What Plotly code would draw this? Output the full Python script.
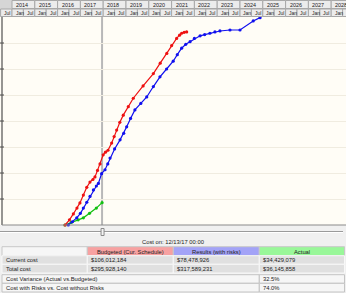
import plotly.graph_objects as go

# ---------------- data ----------------
budget_x = [2016.33, 2016.52, 2016.69, 2016.85, 2016.98, 2017.13, 2017.28, 2017.42, 2017.55, 2017.64,
            2017.75, 2017.86, 2018.0, 2018.1, 2018.21, 2018.37, 2018.48, 2018.59, 2018.73, 2018.88,
            2019.1, 2019.32, 2019.75, 2020.2, 2020.5, 2020.79, 2021.0, 2021.22, 2021.35, 2021.44, 2021.55, 2021.66]
budget_y = [0, 8, 17, 26, 34, 46, 58, 66, 70, 74,
            84, 94, 108, 112, 115, 126, 136, 146, 158, 169,
            182, 195, 214, 233, 249, 264, 276, 287, 292, 295, 296.5, 297]

results_x = [2016.47, 2016.65, 2016.84, 2017.0, 2017.13, 2017.28, 2017.42, 2017.57, 2017.7, 2017.79,
             2017.93, 2018.08, 2018.2, 2018.3, 2018.5, 2018.74, 2018.9, 2019.03, 2019.2, 2019.39,
             2019.65, 2019.91, 2020.2, 2020.49, 2020.78, 2021.07, 2021.25, 2021.44, 2021.62, 2021.81,
             2022.0, 2022.25, 2022.45, 2022.68, 2022.9, 2023.12, 2023.56, 2024.0, 2024.58, 2024.88]
results_y = [0, 5, 11, 18, 26, 35, 44, 54, 60, 64,
             79, 85, 94, 103, 117, 131, 141, 151, 164, 177,
             187, 197, 213, 228, 240, 252, 262, 272, 278, 282,
             287, 291, 293, 295, 297, 298.5, 300, 300, 314, 319]

actual_x = [2016.32, 2016.6, 2016.9, 2017.13, 2017.4, 2017.7, 2017.95]
actual_y = [0, 4, 8, 11, 18, 26, 34.4]

year_labels = [str(y) for y in range(2014, 2029)]
month_labels = ["Jan", "Jul"]
current_label = "Cost on: 12/13/17 00:00"
table_header = ["", "Budgeted (Cur. Schedule)", "Results (with risks)", "Actual"]
table_rows = [
    ["Current cost", "$106,012,184", "$78,478,926", "$34,429,079"],
    ["Total cost", "$295,928,140", "$317,589,231", "$36,145,858"],
]
summary_rows = [
    ["Cost Variance (Actual vs.Budgeted)", "32.5%"],
    ["Cost with Risks vs. Cost without Risks", "74.0%"],
]
current_date = 2017.95

# ---------------- geometry helpers ----------------
W, H = 346, 293
TOP, BOT = 17, 225
PH = BOT - TOP
X0 = 2014 - 12 / 22.8
X1 = 2014 + (W - 12) / 22.8


def py(y):
    return (BOT - y) / PH


def px(x):
    return x / W


def xp(year):
    return (year - X0) / (X1 - X0)


FONT = "Liberation Sans, Arial, sans-serif"
shapes = []
annotations = []


def rect(x0, y0, x1, y1, fill, line="#a8a8a8", lw=1):
    shapes.append(dict(type="rect", xref="paper", yref="paper",
                       x0=x0, x1=x1, y0=py(y0), y1=py(y1),
                       fillcolor=fill, line=dict(color=line, width=lw), layer="above"))


def text(x, y, s, anchor="left", size=7, color="#222"):
    annotations.append(dict(xref="paper", yref="paper", x=x, y=py(y), text=s,
                            showarrow=False, xanchor=anchor, yanchor="middle",
                            font=dict(family=FONT, size=size, color=color)))


# header (timeline)
rect(0, 0, 1, 17, "#d6d6d6", line="#d6d6d6", lw=0)
for i, lab in enumerate(year_labels):
    yr = 2014 + i
    rect(xp(yr), 0.5, xp(yr + 1), 8.5, "#ececec")
    text(xp(yr) + px(2), 4.6, lab, size=5.4)
for yr in range(2013, 2029):
    for k, lab in enumerate(month_labels):
        start = yr + 0.5 * k
        if start + 0.5 < X0 + 0.2:
            continue
        rect(max(xp(start), 0), 9, xp(start + 0.5), 16.5, "#ececec")
        if xp(start) < 1 - px(8):
            text(max(xp(start), 0) + px(1.5), 12.9, lab, size=5)

# left axis with tick marks
shapes.append(dict(type="line", xref="paper", yref="paper", x0=px(2), x1=px(2), y0=0, y1=1,
                   line=dict(color="#505050", width=1.2), layer="above"))
for g in range(1, 8):
    yy = BOT - g * 26
    shapes.append(dict(type="line", xref="paper", yref="paper", x0=0, x1=px(4), y0=py(yy), y1=py(yy),
                       line=dict(color="#505050", width=1), layer="above"))
shapes.append(dict(type="line", xref="paper", yref="paper", x0=px(2), x1=1, y0=0, y1=0,
                   line=dict(color="#8a8a8a", width=1.2), layer="above"))

# current date line
shapes.append(dict(type="line", xref="paper", yref="paper", x0=xp(current_date), x1=xp(current_date),
                   y0=0, y1=1, line=dict(color="#b8b8b8", width=2), layer="below"))

# scrollbar
shapes.append(dict(type="line", xref="paper", yref="paper", x0=0, x1=px(343), y0=py(231.5), y1=py(231.5),
                   line=dict(color="#9a9a9a", width=1)))
shapes.append(dict(type="line", xref="paper", yref="paper", x0=0, x1=px(343), y0=py(232.5), y1=py(232.5),
                   line=dict(color="#ffffff", width=1)))
rect(xp(current_date) - px(1), 228.5, xp(current_date) + px(2), 235.5, "#f4f4f4", line="#8a8a8a")

# caption
text(0.5, 241.5, current_label, anchor="center", size=5.8)

# table
TS = 5.8
cols = [2, 87.3, 173.3, 259.3, 344.5]
head_fill = ["#f6f6f6", "#f7a1a1", "#a3a3f7", "#99f799"]
rows_y = [246.7, 255.7, 264.3, 273.0]
for j in range(4):
    rect(px(cols[j]), rows_y[0], px(cols[j + 1]), rows_y[1], head_fill[j], line="#c8c8c8")
    if table_header[j]:
        text(px((cols[j] + cols[j + 1]) / 2), (rows_y[0] + rows_y[1]) / 2 + 0.3,
             table_header[j], anchor="center", size=TS)
for r, row in enumerate(table_rows):
    for j in range(4):
        rect(px(cols[j]), rows_y[r + 1], px(cols[j + 1]), rows_y[r + 2], "#e0e0e0", line="#f8f8f8")
        text(px(cols[j] + 2), (rows_y[r + 1] + rows_y[r + 2]) / 2 + 0.3, row[j], size=TS)

srows_y = [274.7, 283.3, 292.0]
for r, row in enumerate(summary_rows):
    rect(px(cols[0]), srows_y[r], px(cols[3]), srows_y[r + 1], "#f6f6f6", line="#c4c4c4")
    rect(px(cols[3]), srows_y[r], px(cols[4]), srows_y[r + 1], "#f6f6f6", line="#c4c4c4")
    text(px(cols[0] + 2), (srows_y[r] + srows_y[r + 1]) / 2 + 0.3, row[0], size=TS)
    text(px(cols[3] + 2), (srows_y[r] + srows_y[r + 1]) / 2 + 0.3, row[1], size=TS)

# ---------------- figure ----------------
fig = go.Figure()
series = [
    (actual_x, actual_y, "#10c010"),
    (results_x, results_y, "#1010ee"),
    (budget_x, budget_y, "#ee1010"),
]
for xs, ys, c in series:
    fig.add_trace(go.Scatter(x=xs, y=ys, mode="lines+markers",
                             line=dict(color=c, width=1.2),
                             marker=dict(color=c, size=3.2),
                             showlegend=False, hoverinfo="skip", cliponaxis=False))

fig.update_layout(
    width=W, height=H,
    margin=dict(l=0, r=0, t=TOP, b=H - BOT, pad=0),
    paper_bgcolor="#f0f0f0",
    plot_bgcolor="#fffdf6",
    showlegend=False,
    xaxis=dict(range=[X0, X1], showgrid=False, zeroline=False, showticklabels=False,
               showline=False, fixedrange=True),
    yaxis=dict(range=[0, 320], dtick=40, showgrid=True, gridcolor="#f0ece0", gridwidth=1,
               zeroline=False, showticklabels=False, showline=False, fixedrange=True),
    shapes=shapes,
    annotations=annotations,
)

fig.write_html("out.html", config={"displayModeBar": False})
